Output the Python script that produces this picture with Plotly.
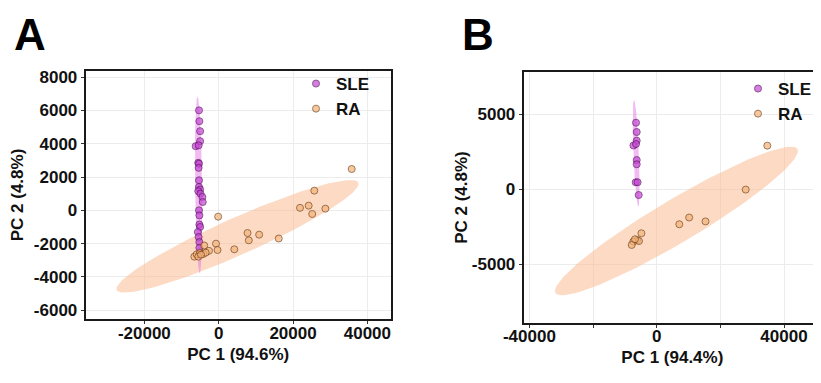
import numpy as np
import plotly.graph_objects as go

# ---------------- data: panel A ----------------
A_SLE_x = [-5300, -5200, -5000, -5000, -6200, -5400, -5500, -5300, -5400, -5300, -5300,
           -5000, -5500, -4900, -4400, -4300, -5300, -5200, -5200, -5000, -5600, -5400,
           -5200, -5200, -5100]
A_SLE_y = [6000, 5350, 4750, 4150, 3850, 3900, 2850, 2800, 2550, 1800, 1400,
           1250, 1150, 1000, 800, 500, 0, -300, -850, -1000, -1300, -1600,
           -1900, -2250, -2600]
A_RA_x = [35780, 25720, 21870, 24200, 25150, 28700, -150, 7750, 10880, 8100, 16150,
          4200, -730, -320, -2610, -3900, -6560, -5920, -5030, -4140, -3500, -5490, -4760]
A_RA_y = [2480, 1180, 150, 280, -220, 100, -380, -1360, -1460, -1800, -1690,
          -2340, -2000, -2380, -2430, -2110, -2780, -2640, -2540, -2620, -2540, -2780, -2660]

# ---------------- data: panel B ----------------
B_SLE_x = [-6500, -6280, -6280, -7300, -6500, -6280, -6280, -6600, -6000, -5650]
B_SLE_y = [4420, 3800, 3220, 2900, 3000, 1930, 1650, 450, 450, -400]
B_RA_x = [34750, 27960, 10200, 7100, 15330, -4800, -6090, -7350, -7850, -5560, -6820]
B_RA_y = [2890, -40, -1900, -2350, -2160, -2950, -3400, -3510, -3730, -3470, -3350]

# confidence ellipses: centre and two conjugate semi-axis vectors (data units)
A_RA_ell = dict(center=(5060, -1560), major=(32500, 3220), minor=(2020, -1015))
A_SLE_ell = dict(center=(-5400, 1520), major=(-310, 5300), minor=(950, 0))
B_RA_ell = dict(center=(6220, -2133), major=(38010, 4800), minor=(3456, -1233))
B_SLE_ell = dict(center=(-6440, 2380), major=(-675, 3553), minor=(850, 0))

# axis text
A_x_title = "PC 1 (94.6%)"
A_y_title = "PC 2 (4.8%)"
B_x_title = "PC 1 (94.4%)"
B_y_title = "PC 2 (4.8%)"
A_x_tickvals = [-20000, 0, 20000, 40000]
A_x_ticktext = ["-20000", "0", "20000", "40000"]
A_y_tickvals = [-6000, -4000, -2000, 0, 2000, 4000, 6000, 8000]
A_y_ticktext = ["-6000", "-4000", "-2000", "0", "2000", "4000", "6000", "8000"]
B_x_tickvals = [-40000, -20000, 0, 20000, 40000]
B_x_ticktext = ["-40000", "", "0", "", "40000"]
B_y_tickvals = [-5000, 0, 5000]
B_y_ticktext = ["-5000", "0", "5000"]
groups = ["SLE", "RA"]

# ---------------- styling ----------------
FONT = "Liberation Sans, Arial, sans-serif"
SLE_COL = "#c84ad6"
SLE_EDGE = "#5e1466"
RA_COL = "#f3b47a"
RA_EDGE = "#7a461c"
RA_FILL = "rgba(250,188,148,0.55)"
SLE_FILL = "rgba(228,105,228,0.45)"

# page has an 8px body margin; figure occupies the rest of the 821x383 window
OFF = 8
W, H = 821 - OFF, 383 - OFF


def px(x):
    return (x - OFF) / W


def py(y):
    return 1 - (y - OFF) / H


def ellipse(e, n=120):
    t = np.linspace(0, 2 * np.pi, n)
    cx, cy = e["center"]
    ax, ay = e["major"]
    bx, by = e["minor"]
    return cx + ax * np.cos(t) + bx * np.sin(t), cy + ay * np.cos(t) + by * np.sin(t)


fig = go.Figure()


def add_panel(xa, ya, leg, ra_ell, sle_ell, sle_x, sle_y, ra_x, ra_y):
    ex, ey = ellipse(ra_ell)
    fig.add_trace(go.Scatter(x=ex, y=ey, mode="lines", fill="toself", fillcolor=RA_FILL,
                             line=dict(width=0), hoverinfo="skip", showlegend=False,
                             xaxis=xa, yaxis=ya))
    ex, ey = ellipse(sle_ell)
    fig.add_trace(go.Scatter(x=ex, y=ey, mode="lines", fill="toself", fillcolor=SLE_FILL,
                             line=dict(width=0), hoverinfo="skip", showlegend=False,
                             xaxis=xa, yaxis=ya))
    fig.add_trace(go.Scatter(x=sle_x, y=sle_y, mode="markers", name=groups[0],
                             marker=dict(size=7, color=SLE_COL, opacity=0.72,
                                         line=dict(width=1, color=SLE_EDGE)),
                             xaxis=xa, yaxis=ya, legend=leg))
    fig.add_trace(go.Scatter(x=ra_x, y=ra_y, mode="markers", name=groups[1],
                             marker=dict(size=7, color=RA_COL, opacity=0.72,
                                         line=dict(width=1, color=RA_EDGE)),
                             xaxis=xa, yaxis=ya, legend=leg))


add_panel("x", "y", "legend", A_RA_ell, A_SLE_ell, A_SLE_x, A_SLE_y, A_RA_x, A_RA_y)
add_panel("x2", "y2", "legend2", B_RA_ell, B_SLE_ell, B_SLE_x, B_SLE_y, B_RA_x, B_RA_y)

tickfont = dict(family=FONT, size=17, color="#111", weight="bold")
titlefont = dict(family=FONT, size=17, color="#111", weight="bold")
common = dict(showgrid=True, gridcolor="#ececec", gridwidth=1, zeroline=False,
              showline=True, linecolor="#1a1a1a", linewidth=2,
              ticks="outside", ticklen=3, tickcolor="#333", tickwidth=1,
              tickfont=tickfont, automargin=False, tickmode="array")

legfont = dict(family=FONT, size=17, color="#111", weight="bold")

fig.update_layout(
    width=W, height=H, autosize=False,
    margin=dict(l=0, r=0, t=0, b=0),
    paper_bgcolor="white", plot_bgcolor="white",
    xaxis=dict(domain=[px(85.7), px(390.7)], range=[-35780, 46270],
               tickvals=A_x_tickvals, ticktext=A_x_ticktext, ticklabelstandoff=-6,
               mirror=True, anchor="y",
               title=dict(text=A_x_title, font=titlefont, standoff=6), **common),
    yaxis=dict(domain=[py(319.3), py(70.7)], range=[-6540, 8380],
               tickvals=A_y_tickvals, ticktext=A_y_ticktext,
               mirror=True, anchor="x",
               title=dict(text=A_y_title, font=titlefont, standoff=8), **common),
    xaxis2=dict(domain=[px(523.7), 1.0], range=[-41780, 51620],
                tickvals=B_x_tickvals, ticktext=B_x_ticktext, ticklabelstandoff=-6,
                mirror=True, anchor="y2",
                title=dict(text=B_x_title, font=titlefont, standoff=6), **common),
    yaxis2=dict(domain=[py(322.7), py(72.3)], range=[-8913, 7780],
                tickvals=B_y_tickvals, ticktext=B_y_ticktext,
                mirror=False, anchor="x2",
                title=dict(text=B_y_title, font=titlefont, standoff=0), **common),
    legend=dict(x=px(296), y=py(66), xanchor="left", yanchor="top",
                bgcolor="rgba(0,0,0,0)", borderwidth=0, font=legfont,
                tracegroupgap=0, itemsizing="trace"),
    legend2=dict(x=px(738), y=py(71), xanchor="left", yanchor="top",
                 bgcolor="rgba(0,0,0,0)", borderwidth=0, font=legfont,
                 tracegroupgap=0, itemsizing="trace"),
    annotations=[
        dict(text="A", x=px(12), y=1.0, xref="paper", yref="paper",
             xanchor="left", yanchor="top", showarrow=False,
             font=dict(family=FONT, size=44, color="#000", weight="bold")),
        dict(text="B", x=px(460), y=1.0, xref="paper", yref="paper",
             xanchor="left", yanchor="top", showarrow=False,
             font=dict(family=FONT, size=44, color="#000", weight="bold")),
    ],
)

fig.write_html("out.html")
